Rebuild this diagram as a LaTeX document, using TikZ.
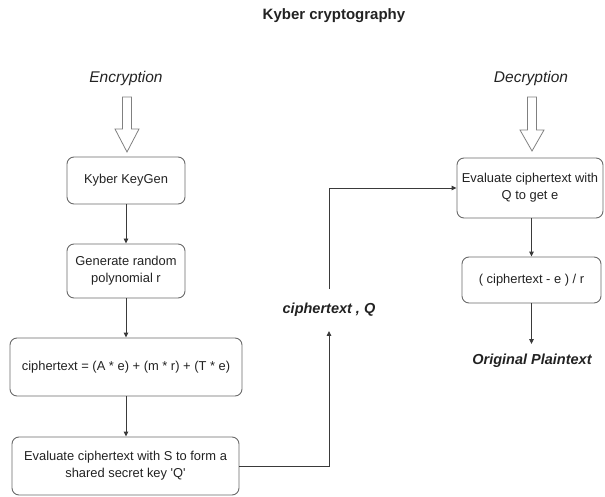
\documentclass[tikz,border=0pt]{standalone}
\usepackage{fontspec}
\setmainfont{Liberation Sans}[Ligatures=TeXOff]
\usetikzlibrary{arrows.meta}
\definecolor{boxgray}{HTML}{6A6A6A}
\definecolor{linegray}{HTML}{3A3A3A}
\definecolor{textdark}{HTML}{222222}
\definecolor{hollowgray}{HTML}{808080}
\newcommand\hollowdown[4]{% x, top, headbase, apex
  \draw[hollowgray, line width=0.8pt, line join=miter]
    (#1-4.5,#2) -- (#1+4.5,#2) -- (#1+4.5,#3) -- (#1+12,#3) -- (#1,#4)
    -- (#1-12,#3) -- (#1-4.5,#3) -- cycle;}
\begin{document}
\begin{tikzpicture}[x=1pt,y=-1pt,
  box/.style={draw=boxgray, rounded corners=7pt, line width=0.9pt, align=center,
    font=\fontsize{12.9}{17}\selectfont, text=textdark, inner sep=0pt},
  conn/.style={draw=linegray, line width=0.9pt, -{Triangle[length=5pt,width=4.5pt]}},
  lbl/.style={text=textdark, inner xsep=1pt}
]
\useasboundingbox (0,0) rectangle (605,497);
\node[font=\bfseries\fontsize{15}{18}\selectfont, text=textdark] (title) at (334,16) {Kyber cryptography};
\node[lbl, font=\itshape\fontsize{15.5}{18}\selectfont] (enc) at (126,78) {Encryption};
\node[lbl, font=\itshape\fontsize{15.5}{18}\selectfont] (dec) at (531,78) {Decryption};
\hollowdown{127}{97}{129}{152}
\hollowdown{532}{97}{130}{151}
\node[box, minimum width=118pt, minimum height=47pt] (kg) at (126,180.5) {Kyber KeyGen};
\node[box, minimum width=118pt, minimum height=54pt] (gr) at (126,271) {Generate random\\polynomial r};
\node[box, minimum width=232pt, minimum height=58pt] (ct) at (126,367) {ciphertext = (A * e) + (m * r) + (T * e)};
\node[box, minimum width=227pt, minimum height=58pt] (ev) at (125.5,466) {Evaluate ciphertext with S to form a\\shared secret key 'Q'};
\node[box, minimum width=146pt, minimum height=60pt] (d1) at (530,188) {Evaluate ciphertext with\\Q to get e};
\node[box, minimum width=139pt, minimum height=46pt] (d2) at (531.5,280) {( ciphertext - e ) / r};
\node[lbl, font=\bfseries\itshape\fontsize{14.5}{17}\selectfont, inner ysep=14pt] (ctq) at (329,310) {ciphertext , Q};
\node[lbl, font=\bfseries\itshape\fontsize{14.5}{17}\selectfont, inner ysep=10pt] (op) at (532,361) {Original Plaintext};
\draw[conn] (kg.south) -- (gr.north);
\draw[conn] (gr.south) -- (ct.north);
\draw[conn] (ct.south) -- (ct.south |- ev.north);
\draw[conn] (ev.east) -| (ctq.south);
\draw[conn] (ctq.north) |- (d1.west);
\draw[conn] (d2.north |- d1.south) -- (d2.north);
\draw[conn] (d2.south) -- (d2.south |- op.north);
\end{tikzpicture}
\end{document}
